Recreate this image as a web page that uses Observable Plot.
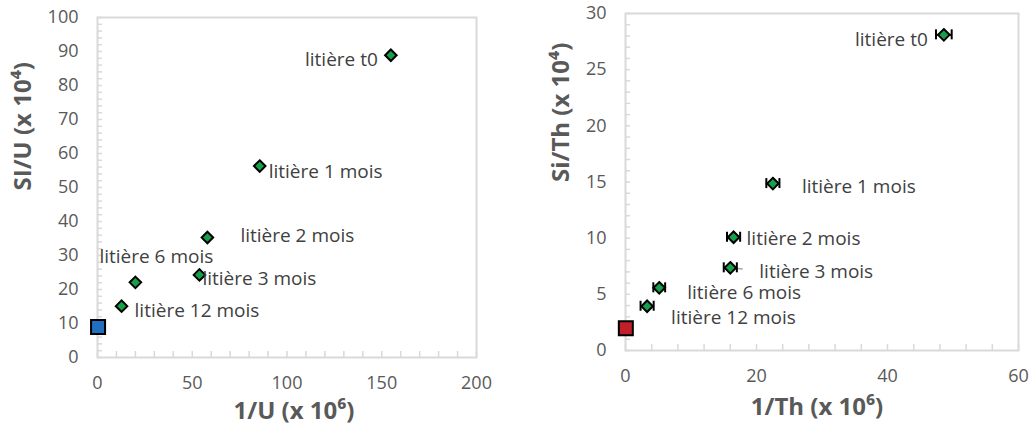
<!DOCTYPE html>
<html>
<head>
<meta charset="utf-8">
<script src="https://cdn.jsdelivr.net/npm/d3@7"></script>
<script src="https://cdn.jsdelivr.net/npm/@observablehq/plot@0.6"></script>
<style>
  html, body { margin: 0; padding: 0; background: #fff; }
  #wrap { position: relative; width: 1031px; height: 434px; }
  #left { position: absolute; left: 0; top: 0; }
  #right { position: absolute; left: 516px; top: 0; }
</style>
</head>
<body>
<div id="wrap"><div id="left"></div><div id="right"></div></div>
<script>
// ---- Data ----
const labels = ["litière t0", "litière 1 mois", "litière 2 mois", "litière 3 mois", "litière 6 mois", "litière 12 mois"];

// Left chart: 1/U (x 10^6) vs SI/U (x 10^4)
const invU = [154.8, 85.6, 58.0, 53.8, 20.0, 12.7];
const siU = [88.9, 56.3, 35.3, 24.3, 22.1, 15.1];
const endU = {x: 0.3, y: 9.0};

// Right chart: 1/Th (x 10^6) vs Si/Th (x 10^4)
const invTh = [48.6, 22.5, 16.5, 16.0, 5.15, 3.3];
const siTh = [28.1, 14.86, 10.08, 7.36, 5.58, 3.94];
const errTh = [1.2, 1.0, 1.0, 1.0, 0.9, 1.0];
const endTh = {x: 0.05, y: 1.98};

const xTicksU = [0, 50, 100, 150, 200];
const yTicksU = [0, 10, 20, 30, 40, 50, 60, 70, 80, 90, 100];
const xTicksTh = [0, 20, 40, 60];
const yTicksTh = [0, 5, 10, 15, 20, 25, 30];

// label placement (pixel offsets, anchor)
const offU = [
  {dx: -13, dy: 5, a: "end"},
  {dx: 9, dy: 6, a: "start"},
  {dx: 33, dy: -2, a: "start"},
  {dx: 3, dy: 4, a: "start"},
  {dx: -36, dy: -25, a: "start"},
  {dx: 13, dy: 5, a: "start"}
];
const offTh = [
  {dx: -16, dy: 5, a: "end"},
  {dx: 29, dy: 3, a: "start"},
  {dx: 13, dy: 2, a: "start"},
  {dx: 29, dy: 4, a: "start"},
  {dx: 28, dy: 5, a: "start"},
  {dx: 24, dy: 12, a: "start"}
];

const dataU = labels.map((l, i) => ({label: l, x: invU[i], y: siU[i], ...offU[i]}));
const dataTh = labels.map((l, i) => ({label: l, x: invTh[i], y: siTh[i], e: errTh[i], ...offTh[i]}));

const FONT = "'Open Sans', Lato, sans-serif";
const GRID = "#d9d9d9";
const TXT = "#595959";
const LBL = "#404040";
const GREEN = "#15a04a";

function labelMarks(data) {
  return data.map(d => Plot.text([d], {
    x: "x", y: "y", text: "label", dx: d.dx, dy: d.dy, textAnchor: d.a,
    fontSize: 19, fill: LBL, fontFamily: FONT
  }));
}

function axes(xMajor, yMajor, xMinor, yMinor) {
  return [
    Plot.frame({stroke: GRID, strokeWidth: 2}),
    Plot.axisX({anchor: "bottom", ticks: xMinor, tickSize: -6, tickFormat: () => "", stroke: GRID, strokeWidth: 1.5, label: null}),
    Plot.axisY({anchor: "left", ticks: yMinor, tickSize: -5, tickFormat: () => "", stroke: GRID, strokeWidth: 1.5, label: null}),
    Plot.axisX({anchor: "bottom", ticks: xMajor, tickSize: 0, tickPadding: 19, fontSize: 18, fill: TXT, label: null, fontFamily: FONT}),
    Plot.axisY({anchor: "left", ticks: yMajor, tickSize: 0, tickPadding: 19, fontSize: 18, fill: TXT, label: null, fontFamily: FONT})
  ];
}

const left = Plot.plot({
  width: 515, height: 434,
  marginLeft: 97, marginRight: 39, marginTop: 17, marginBottom: 77,
  x: {domain: [0, 200]},
  y: {domain: [0, 100]},
  style: {fontFamily: FONT, color: TXT, background: "white", overflow: "visible"},
  marks: [
    ...axes(xTicksU, yTicksU, d3.range(0, 201, 10), d3.range(0, 101, 2)),
    Plot.dot([endU], {x: "x", y: "y", symbol: "square", r: 7.9, fill: "#2170c0", stroke: "#000", strokeWidth: 2}),
    Plot.dot(dataU, {x: "x", y: "y", symbol: "diamond2", r: 5.2, fill: GREEN, stroke: "#000", strokeWidth: 2}),
    ...labelMarks(dataU),
    Plot.text(["SI/U (x 10⁴)"], {frameAnchor: "left", rotate: -90, dx: -74, dy: 3, fontSize: 24, fontWeight: "bold", fill: TXT, fontFamily: FONT}),
    Plot.text(["1/U (x 10⁶)"], {frameAnchor: "bottom", dx: 7, dy: 61, fontSize: 24, fontWeight: "bold", fill: TXT, fontFamily: FONT})
  ]
});

const right = Plot.plot({
  width: 515, height: 434,
  marginLeft: 109, marginRight: 13, marginTop: 13, marginBottom: 84,
  x: {domain: [0, 60]},
  y: {domain: [0, 30]},
  style: {fontFamily: FONT, color: TXT, background: "white", overflow: "visible"},
  marks: [
    ...axes(xTicksTh, yTicksTh, d3.range(0, 61, 4), d3.range(0, 31, 1)),
    Plot.dot([endTh], {x: "x", y: "y", symbol: "square", r: 7.9, fill: "#c0202a", stroke: "#000", strokeWidth: 2}),
    Plot.link([dataTh[3]], {x1: "x", y1: "y", x2: d => d.x + 1.9, y2: d => d.y - 0.1, stroke: "#a6a6a6", strokeWidth: 1.5}),
    Plot.ruleY(dataTh, {y: "y", x1: d => d.x - d.e, x2: d => d.x + d.e, stroke: "#000", strokeWidth: 2}),
    Plot.ruleX(dataTh, {x: d => d.x - d.e, y1: "y", y2: "y", insetTop: -5, insetBottom: -5, stroke: "#000", strokeWidth: 2}),
    Plot.ruleX(dataTh, {x: d => d.x + d.e, y1: "y", y2: "y", insetTop: -5, insetBottom: -5, stroke: "#000", strokeWidth: 2}),
    Plot.dot(dataTh, {x: "x", y: "y", symbol: "diamond2", r: 5.2, fill: GREEN, stroke: "#000", strokeWidth: 2}),
    ...labelMarks(dataTh),
    Plot.text(["Si/Th (x 10⁴)"], {frameAnchor: "left", rotate: -90, dx: -64, dy: 0, fontSize: 24, fontWeight: "bold", fill: TXT, fontFamily: FONT}),
    Plot.text(["1/Th (x 10⁶)"], {frameAnchor: "bottom", dx: -5, dy: 64, fontSize: 24, fontWeight: "bold", fill: TXT, fontFamily: FONT})
  ]
});

document.getElementById("left").appendChild(left);
document.getElementById("right").appendChild(right);
</script>
</body>
</html>
